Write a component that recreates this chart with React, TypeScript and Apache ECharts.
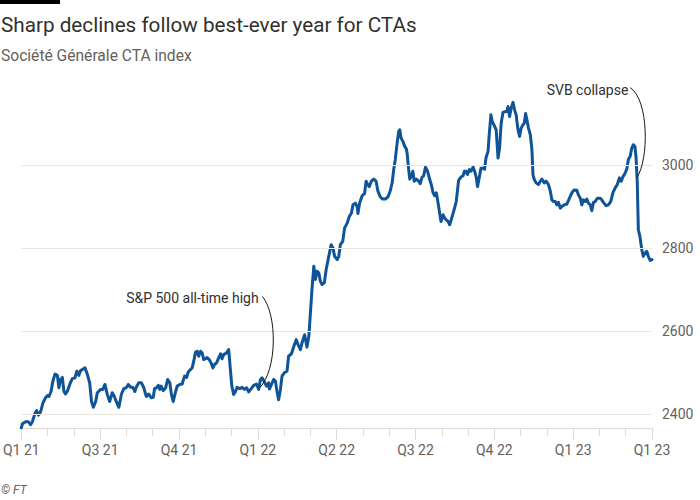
import React, { useEffect, useRef } from "react";
import * as echarts from "echarts";

const TITLE = "Sharp declines follow best-ever year for CTAs";
const SUBTITLE = "Société Générale CTA index";
const SOURCE = "© FT";

const quarterLabels = ["Q1 21", "Q3 21", "Q4 21", "Q1 22", "Q2 22", "Q3 22", "Q4 22", "Q1 23", "Q1 23"];
const yTickValues = [2400, 2600, 2800, 3000];

// x position in months from the first tick
const monthOffsets = [
  0, 0.04, 0.16, 0.27, 0.35, 0.42, 0.52, 0.58, 0.65, 0.73, 0.82, 0.92, 0.99, 1.05, 1.13, 1.2, 1.28, 1.37, 1.43, 1.49,
  1.56, 1.62, 1.68, 1.76, 1.84, 1.94, 2.04, 2.11, 2.19, 2.25, 2.32, 2.42, 2.51, 2.6, 2.67, 2.74, 2.83, 2.89, 3.02, 3.1,
  3.18, 3.27, 3.36, 3.46, 3.54, 3.61, 3.71, 3.81, 3.9, 3.99, 4.07, 4.16, 4.24, 4.32, 4.37, 4.47, 4.57, 4.66, 4.73,
  4.76, 4.85, 4.94, 5.02, 5.07, 5.14, 5.21, 5.27, 5.32, 5.4, 5.49, 5.57, 5.65, 5.71, 5.78, 5.86, 5.93, 6.03, 6.12, 6.21,
  6.29, 6.35, 6.44, 6.5, 6.56, 6.63, 6.69, 6.75, 6.82, 6.88, 6.94, 7.01, 7.07, 7.15, 7.22, 7.29, 7.35, 7.43, 7.51, 7.58,
  7.64, 7.7, 7.81, 7.89, 7.96, 8.01, 8.08, 8.15, 8.21, 8.31, 8.4, 8.49, 8.57, 8.65, 8.75, 8.84, 8.95, 9.03, 9.1, 9.16,
  9.25, 9.33, 9.41, 9.44, 9.52, 9.6, 9.67, 9.73, 9.79, 9.86, 9.92, 10.02, 10.11, 10.17, 10.28, 10.37, 10.46, 10.53,
  10.62, 10.68, 10.78, 10.87, 10.94, 11.0, 11.06, 11.13, 11.19, 11.25, 11.32, 11.38, 11.44, 11.53, 11.6, 11.7, 11.79,
  11.86, 11.92, 12.02, 12.08, 12.14, 12.23, 12.3, 12.4, 12.48, 12.56, 12.62, 12.71, 12.78, 12.81, 12.87, 12.97, 13.06,
  13.12, 13.18, 13.24, 13.32, 13.41, 13.5, 13.57, 13.66, 13.75, 13.85, 13.95, 14.04, 14.11, 14.17, 14.23, 14.3, 14.36,
  14.4, 14.45, 14.52, 14.59, 14.65, 14.68, 14.74, 14.78, 14.84, 14.9, 14.95, 15.03, 15.12, 15.18, 15.25, 15.31, 15.38,
  15.46, 15.54, 15.6, 15.67, 15.73, 15.79, 15.84, 15.92, 15.97, 16.05, 16.11, 16.17, 16.24, 16.3, 16.36, 16.45, 16.55,
  16.64, 16.73, 16.81, 16.86, 16.93, 16.98, 17.05, 17.11, 17.19, 17.25, 17.31, 17.36, 17.43, 17.49, 17.57, 17.63,
  17.68, 17.76, 17.81, 17.87, 17.92, 18.0, 18.07, 18.14, 18.2, 18.26, 18.33, 18.41, 18.48, 18.52, 18.58, 18.64, 18.71,
  18.77, 18.83, 18.9, 18.96, 19.02, 19.09, 19.14, 19.19, 19.24, 19.3, 19.37, 19.43, 19.47, 19.52, 19.59, 19.68, 19.75,
  19.81, 19.9, 19.97, 20.06, 20.13, 20.19, 20.25, 20.32, 20.38, 20.44, 20.51, 20.57, 20.66, 20.76, 20.86, 20.95, 21.04,
  21.14, 21.2, 21.27, 21.33, 21.39, 21.46, 21.52, 21.58, 21.65, 21.71, 21.77, 21.84, 21.92, 22.03, 22.09, 22.15, 22.25,
  22.34, 22.43, 22.51, 22.6, 22.68, 22.76, 22.83, 22.89, 22.98, 23.04, 23.1, 23.17, 23.23, 23.29, 23.35, 23.39, 23.44,
  23.48, 23.54, 23.61, 23.67, 23.74, 23.8, 23.86, 23.93, 24.0,
];

const ctaIndex = [
  2366, 2376, 2381, 2381, 2374, 2381, 2402, 2408, 2397, 2405, 2426, 2439, 2444, 2442, 2454, 2479, 2496, 2493, 2463, 2483,
  2488, 2454, 2448, 2456, 2471, 2485, 2487, 2503, 2493, 2504, 2507, 2511, 2496, 2475, 2430, 2416, 2430, 2451, 2459, 2459,
  2471, 2447, 2430, 2451, 2442, 2430, 2416, 2448, 2461, 2463, 2471, 2464, 2464, 2454, 2464, 2475, 2475, 2463, 2447,
  2442, 2448, 2439, 2440, 2461, 2463, 2469, 2459, 2467, 2456, 2463, 2483, 2475, 2447, 2430, 2451, 2467, 2471, 2472, 2491,
  2488, 2501, 2507, 2511, 2527, 2549, 2551, 2539, 2551, 2547, 2531, 2533, 2536, 2531, 2523, 2511, 2519, 2523, 2535, 2545,
  2533, 2543, 2547, 2555, 2503, 2467, 2447, 2454, 2464, 2461, 2464, 2459, 2463, 2453, 2461, 2469, 2472, 2459, 2483, 2487,
  2477, 2467, 2475, 2460, 2471, 2483, 2479, 2454, 2434, 2459, 2491, 2500, 2503, 2539, 2545, 2563, 2579, 2567,
  2555, 2571, 2591, 2561, 2587, 2643, 2700, 2756, 2724, 2744, 2740, 2720, 2712, 2716, 2748, 2780, 2808,
  2800, 2780, 2772, 2780, 2808, 2816, 2848, 2860, 2876, 2884, 2904, 2908, 2899, 2883, 2908, 2926, 2931,
  2961, 2953, 2948, 2961, 2966, 2961, 2937, 2923, 2918, 2918, 2923, 2938, 2957, 2989, 3013, 3053, 3081,
  3085, 3065, 3057, 3045, 3039, 3029, 2989, 2966, 2973, 2985, 2961, 2966, 2961, 2955, 2971, 2974, 2995,
  2985, 2965, 2953, 2933, 2926, 2933, 2916, 2884, 2864, 2880, 2872, 2868, 2864, 2856, 2868, 2888, 2912,
  2963, 2971, 2974, 2985, 2985, 2977, 2989, 2985, 2995, 2985, 2971, 2948, 2971, 2992, 2992, 2990,
  3017, 3033, 3077, 3121, 3105, 3095, 3085, 3017, 3041, 3101, 3127, 3129, 3129, 3141, 3117, 3137, 3151,
  3133, 3121, 3085, 3069, 3089, 3097, 3101, 3124, 3109, 3089, 3073, 3037, 2977, 2965, 2957, 2953, 2961,
  2966, 2957, 2961, 2953, 2937, 2916, 2912, 2912, 2904, 2910, 2896, 2900, 2904, 2906, 2920, 2933, 2940,
  2939, 2928, 2920, 2904, 2916, 2912, 2918, 2908, 2904, 2890, 2910, 2912, 2920, 2920, 2916, 2910, 2902,
  2904, 2912, 2933, 2945, 2953, 2969, 2961, 2971, 2981, 2990, 3013, 3021, 3041, 3049, 3045, 3021, 2957,
  2844, 2828, 2796, 2780, 2788, 2792, 2780, 2770, 2772,
];

const annotationTexts = ["S&P 500 all-time high", "SVB collapse"];
const annotationMonths = [9.07, 23.42];
const annotationValues = [2463, 2969];

const FONT = "Roboto, 'Noto Sans', sans-serif";
const MUTED = "#66605C";
const INK = "#33302E";

export default function App() {
  const ref = useRef<HTMLDivElement>(null);

  useEffect(() => {
    if (!ref.current) return;
    const chart = echarts.init(ref.current, null, { renderer: "svg" });
    const data = monthOffsets.map((m, i) => [m, ctaIndex[i]]);

    chart.setOption({
      animation: false,
      backgroundColor: "#ffffff",
      textStyle: { fontFamily: FONT },
      grid: { left: 20.7, right: 48, top: 80, bottom: 72, containLabel: false },
      xAxis: {
        type: "value",
        min: 0,
        max: 24,
        interval: 3,
        axisLine: { show: true, lineStyle: { color: "#e2dbd4", width: 1 } },
        axisTick: { show: true, length: 12, lineStyle: { color: "#e2dbd4", width: 1 } },
        minorTick: { show: true, splitNumber: 3, length: 8, lineStyle: { color: "#e2dbd4", width: 1 } },
        splitLine: { show: false },
        minorSplitLine: { show: false },
        axisLabel: {
          color: MUTED,
          fontSize: 14,
          fontFamily: FONT,
          margin: 15,
          showMinLabel: true,
          showMaxLabel: true,
          formatter: (v: number) => quarterLabels[Math.round(v / 3)] ?? "",
        },
      },
      yAxis: {
        type: "value",
        position: "right",
        min: 2366,
        max: 3205,
        axisLine: { show: false },
        axisTick: { show: false },
        splitLine: { show: false },
        axisLabel: {
          customValues: yTickValues,
          color: MUTED,
          fontSize: 14,
          fontFamily: FONT,
          margin: 10,
          formatter: (v: number) => String(Math.round(v)),
        },
      },
      series: [
        {
          type: "line",
          data: [],
          z: 1,
          silent: true,
          markLine: {
            silent: true,
            symbol: ["none", "none"],
            label: { show: false },
            lineStyle: { color: "#ebe5df", type: "solid", width: 1 },
            data: yTickValues.map((v) => ({ yAxis: v })),
          },
        },
        {
          type: "line",
          data,
          z: 3,
          showSymbol: false,
          symbol: "none",
          lineStyle: { color: "#0f5499", width: 3, join: "round", cap: "round" },
        },
      ],
    });

    const graphics: any[] = [
      { type: "rect", shape: { x: 0, y: 0, width: 60, height: 4 }, style: { fill: "#000" } },
      {
        type: "text",
        x: 1,
        y: 25,
        style: { text: TITLE, fontSize: 20.7, fontFamily: FONT, fill: INK, verticalAlign: "middle" },
      },
      {
        type: "text",
        x: 1,
        y: 56,
        style: { text: SUBTITLE, fontSize: 15.6, fontFamily: FONT, fill: MUTED, verticalAlign: "middle" },
      },
      {
        type: "text",
        x: 1,
        y: 490,
        style: { text: SOURCE, fontSize: 12, fontFamily: FONT, fontStyle: "italic", fill: MUTED, verticalAlign: "middle" },
      },
    ];

    const offsets = [
      { tx: -1, ty: -90, s: [2.7, -91.3], c1: [17.7, -73.3], c2: [17.7, -18.3] },
      { tx: -8.4, ty: -88.3, s: [-6.7, -90.3], c1: [12.3, -78.3], c2: [12.3, -18.3] },
    ];
    annotationTexts.forEach((t, i) => {
      const p = chart.convertToPixel({ seriesIndex: 1 }, [annotationMonths[i], annotationValues[i]]) as number[];
      const o = offsets[i];
      graphics.push({
        type: "text",
        x: p[0] + o.tx,
        y: p[1] + o.ty,
        z: 10,
        style: { text: t, fontSize: 14, fontFamily: FONT, fill: INK, align: "right", verticalAlign: "middle" },
      });
      graphics.push({
        type: "bezierCurve",
        z: 10,
        shape: {
          x1: p[0] + o.s[0],
          y1: p[1] + o.s[1],
          cpx1: p[0] + o.c1[0],
          cpy1: p[1] + o.c1[1],
          cpx2: p[0] + o.c2[0],
          cpy2: p[1] + o.c2[1],
          x2: p[0],
          y2: p[1],
        },
        style: { stroke: "#1a1817", lineWidth: 1, fill: null },
      });
    });

    chart.setOption({ graphic: graphics });

    return () => chart.dispose();
  }, []);

  return (
    <div
      ref={ref}
      style={{ position: "fixed", left: 0, top: 0, width: 700, height: 500, background: "#fff" }}
    />
  );
}
